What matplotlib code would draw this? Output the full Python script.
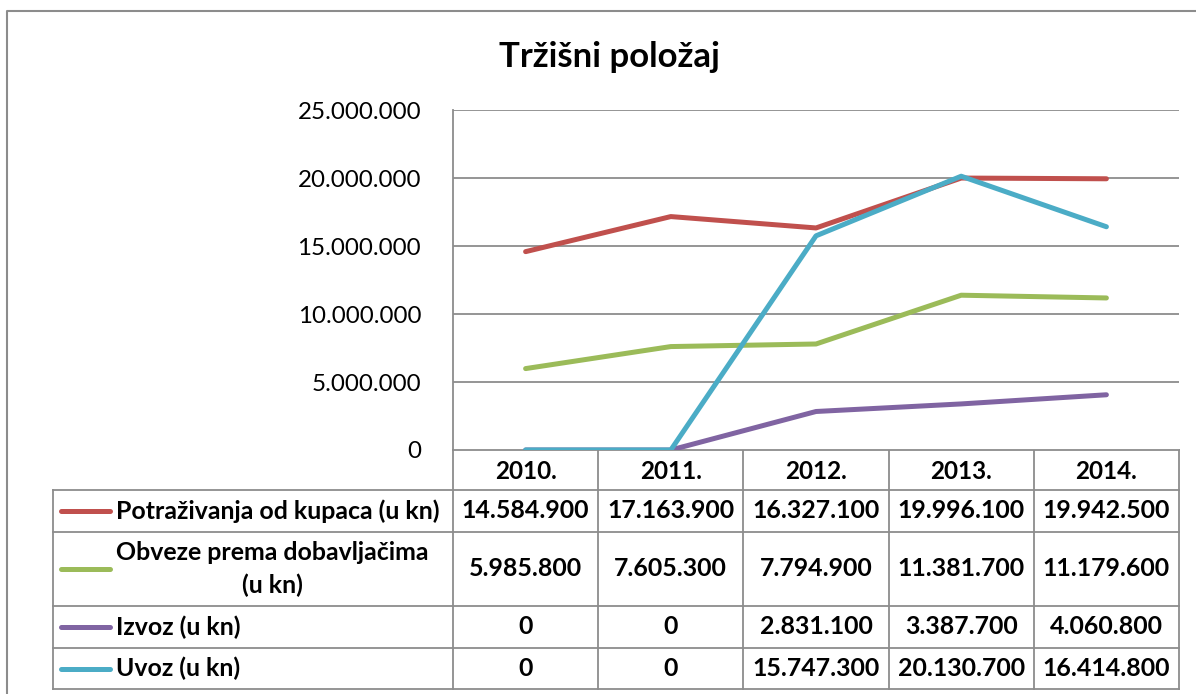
import matplotlib.pyplot as plt
from matplotlib.lines import Line2D
from matplotlib.ticker import FuncFormatter

plt.rcParams['font.family'] = ['Lato', 'DejaVu Sans']

years = ['2010.', '2011.', '2012.', '2013.', '2014.']
potrazivanja = [14584900, 17163900, 16327100, 19996100, 19942500]
obveze = [5985800, 7605300, 7794900, 11381700, 11179600]
izvoz = [0, 0, 2831100, 3387700, 4060800]
uvoz = [0, 0, 15747300, 20130700, 16414800]

series_names = ['Potraživanja od kupaca (u kn)', 'Obveze prema dobavljačima\n(u kn)',
                'Izvoz (u kn)', 'Uvoz (u kn)']
series_vals = [potrazivanja, obveze, izvoz, uvoz]
colors = ['#C0504D', '#9BBB59', '#8064A2', '#4BACC6']

W, H = 1196, 694
grid_c = '#8C8C8C'


def fmt(v):
    return f"{int(v):,}".replace(",", ".")


fig = plt.figure(figsize=(W / 100, H / 100), dpi=100)

# plot area in pixels
px0, px1, py0, py1 = 453, 1179, 110, 450
ax = fig.add_axes([px0 / W, 1 - py1 / H, (px1 - px0) / W, (py1 - py0) / H])
for name, vals, c in zip(series_names, series_vals, colors):
    ax.plot(range(len(years)), vals, color=c, lw=3.6, solid_capstyle='round',
            solid_joinstyle='round', zorder=3)
ax.set_xlim(-0.5, len(years) - 0.5)
ax.set_ylim(0, 25000000)
ax.set_yticks(range(0, 25000001, 5000000))
ax.yaxis.set_major_formatter(FuncFormatter(lambda v, p: fmt(v)))
ax.set_xticks([])
ax.tick_params(axis='y', length=0, pad=23, labelsize=17.4)
ax.grid(axis='y', color=grid_c, lw=1.3)
for s in ['top', 'right', 'bottom']:
    ax.spines[s].set_visible(False)
ax.spines['left'].set_color(grid_c)
ax.spines['left'].set_linewidth(1.3)

# overlay for title, table and border, pixel coordinates
ov = fig.add_axes([0, 0, 1, 1], zorder=-1)
ov.set_xlim(0, W)
ov.set_ylim(H, 0)
ov.axis('off')

ov.text(609, 57, 'Tržišni položaj', ha='center', va='center', fontsize=25, fontweight='bold')

# chart border
ov.add_line(Line2D([7, 7, W + 5], [H + 5, 11, 11], color='#8C8C8C', lw=1.5))

colw = (px1 - px0) / len(years)
col_x = [px0 + i * colw for i in range(len(years) + 1)]
row_y = [450, 490, 532, 606, 648, 689]
tx0 = 53

def hl(x0, x1, y):
    ov.add_line(Line2D([x0, x1], [y, y], color=grid_c, lw=1.3))

def vl(x, y0, y1):
    ov.add_line(Line2D([x, x], [y0, y1], color=grid_c, lw=1.3))

# header row
hl(px0, px1, row_y[0])
for x in col_x:
    vl(x, row_y[0], row_y[-1])
vl(tx0, row_y[1], row_y[-1])
for y in row_y[1:]:
    hl(tx0, px1, y)
for i, yr in enumerate(years):
    ov.text((col_x[i] + col_x[i + 1]) / 2, (row_y[0] + row_y[1]) / 2 + 1, yr,
            ha='center', va='center', fontsize=17.5, fontweight='bold')

# data rows
for r, (name, vals, c) in enumerate(zip(series_names, series_vals, colors)):
    yc = (row_y[r + 1] + row_y[r + 2]) / 2
    ov.add_line(Line2D([61, 110], [yc, yc], color=c, lw=3.6, solid_capstyle='round'))
    ov.text(116, yc, name, ha='left', va='center', multialignment='center',
            fontsize=17.9, fontweight='bold', linespacing=1.45)
    for i, v in enumerate(vals):
        ov.text((col_x[i] + col_x[i + 1]) / 2, yc, fmt(v), ha='center', va='center',
                fontsize=17.9, fontweight='bold')

fig.savefig('out.png', dpi=100)
